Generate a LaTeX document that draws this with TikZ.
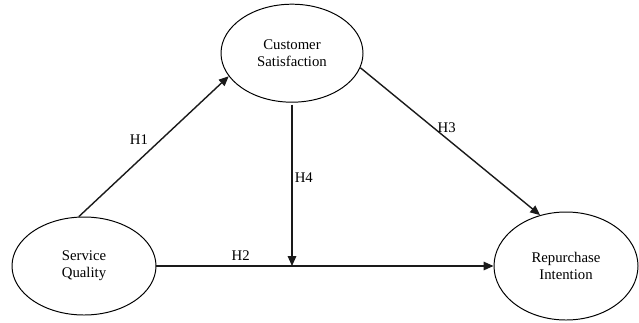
\documentclass[tikz,border=0pt]{standalone}
\usepackage{fontspec}
\setmainfont{LiberationSerif-Regular.ttf}
\usetikzlibrary{arrows.meta, positioning, shapes.geometric}
\definecolor{cline}{HTML}{1A1A1A}
\tikzset{
  every picture/.style={font=\rmfamily\fontsize{10.5}{12}\selectfont, line width=0.8pt},
  construct/.style={ellipse, draw=black, line width=0.7pt, align=center, inner sep=0pt},
  arrow/.style={-{Triangle[length=7pt, width=6pt]}, draw=cline, line width=1pt},
  hyp/.style={inner sep=1pt},
}

\begin{document}
\begin{tikzpicture}
  \useasboundingbox (0,0) rectangle (15.975,-8.05);
  \node[construct, minimum width=3.55cm, minimum height=2.45cm] (cs) at (7.3,-1.33) {Customer\\Satisfaction};
  \node[construct, minimum width=3.6cm, minimum height=2.45cm] (sq) at (2.1,-6.65) {Service\\Quality};
  \node[construct, minimum width=3.6cm, minimum height=2.7cm] (ri) at (14.15,-6.65) {Repurchase\\Intention};
  \coordinate (h4end) at (cs.south |- sq.east);
  \draw[arrow] (sq.96) -- node[hyp, pos=0.55, left=8pt] (h1) {H1} (cs.200);
  \draw[arrow] (sq.east) -- node[hyp, pos=0.25, above=2.5pt] (h2) {H2} (ri.west);
  \draw[arrow] (cs.348) -- node[hyp, pos=0.48, above=3pt] (h3) {H3} (ri.117);
  \draw[arrow] (cs.south) ++(0,-0.05) -- node[hyp, pos=0.45, right=0.5pt] (h4) {H4} (h4end);
\end{tikzpicture}
\end{document}
